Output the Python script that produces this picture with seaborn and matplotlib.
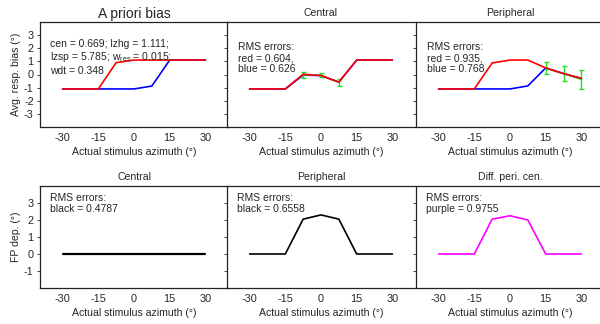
import matplotlib
matplotlib.use("Agg")
import matplotlib.pyplot as plt
import seaborn as sns
import numpy as np
import pandas as pd

sns.set_theme(style="white")
plt.rcParams['font.family'] = ['Liberation Sans', 'DejaVu Sans']
plt.rcParams['mathtext.fontset'] = 'custom'
plt.rcParams['mathtext.rm'] = 'Liberation Sans'
plt.rcParams['mathtext.it'] = 'Liberation Sans'

# ---------------- data ----------------
azimuth = [-30, -22.5, -15, -7.5, 0, 7.5, 15, 22.5, 30]

prior_red = [-1.1, -1.1, -1.1, 0.9, 1.1, 1.1, 1.1, 1.1, 1.1]
prior_blue = [-1.1, -1.1, -1.1, -1.1, -1.1, -0.88, 1.1, 1.1, 1.1]

central_red = [-1.1, -1.1, -1.1, 0.02, -0.08, -0.58, 1.1, 1.1, 1.1]
central_blue = [-1.1, -1.1, -1.1, -0.05, -0.08, -0.58, 1.1, 1.1, 1.1]
central_data_x = [-7.5, 0, 7.5]
central_data_y = [-0.03, -0.06, -0.6]
central_data_err = [0.22, 0.14, 0.28]

peri_red = [-1.1, -1.1, -1.1, 0.88, 1.1, 1.1, 0.5, 0.07, -0.3]
peri_blue = [-1.1, -1.1, -1.1, -1.1, -1.1, -0.87, 0.5, 0.07, -0.3]
peri_data_x = [15, 22.5, 30]
peri_data_y = [0.48, 0.06, -0.38]
peri_data_err = [0.47, 0.57, 0.72]

fp_central = [0, 0, 0, 0, 0, 0, 0, 0, 0]
fp_peripheral = [0, 0, 0, 2.05, 2.3, 2.05, 0, 0, 0]
fp_diff = [0, 0, 0, 2.05, 2.25, 2.0, 0, 0, 0]

top_titles = ["A priori bias", "Central", "Peripheral"]
bottom_titles = ["Central", "Peripheral", "Diff. peri. cen."]
xticks = [-30, -15, 0, 15, 30]
top_yticks = [3, 2, 1, 0, -1, -2, -3]
bottom_yticks = [3, 2, 1, 0, -1]
xlabel = "Actual stimulus azimuth (°)"

# ---------------- figure ----------------
fig = plt.figure(figsize=(6.0, 3.24), dpi=100)
W, H = 600.0, 324.0
lefts = [40, 227, 416]
pw = 188

def make_ax(left, top, bottom):
    return fig.add_axes([left / W, 1 - bottom / H, pw / W, (bottom - top) / H])

top_axes = [make_ax(l, 22, 127) for l in lefts]
bot_axes = [make_ax(l, 186, 288) for l in lefts]

def style(ax, ylim, yticks, show_ylabels):
    ax.set_xlim(-39.5, 39.5)
    ax.set_ylim(*ylim)
    ax.set_xticks(xticks)
    ax.set_xticklabels([str(t) for t in xticks], fontsize=7.8)
    ax.set_yticks(yticks)
    if show_ylabels:
        ax.set_yticklabels([str(t) for t in yticks], fontsize=7.8)
    else:
        ax.set_yticklabels([])
    ax.tick_params(axis='x', length=0, pad=4)
    ax.tick_params(axis='y', length=2.5, width=0.6, pad=2, left=True, direction='out')
    for s in ['left', 'bottom', 'top']:
        ax.spines[s].set_visible(True)
        ax.spines[s].set_color('#222222')
        ax.spines[s].set_linewidth(0.9)
    ax.spines['right'].set_visible(False)
    ax.set_xlabel(xlabel, fontsize=7.6, labelpad=3)
    ax.set_ylabel("")
    ax.patch.set_alpha(0)

def line(ax, y, color, lw=1.2, zorder=2):
    df = pd.DataFrame({"x": azimuth, "y": y})
    sns.lineplot(data=df, x="x", y="y", ax=ax, color=color, linewidth=lw,
                 sort=False, estimator=None, zorder=zorder)

# Top row
ax = top_axes[0]
line(ax, prior_blue, "blue")
line(ax, prior_red, "red", zorder=3)
style(ax, (-4, 4), top_yticks, True)
ax.set_title(top_titles[0], fontsize=10, pad=3)
ax.set_ylabel("Avg. resp. bias (°)", fontsize=7.6, labelpad=2)
ax.text(0.053, 0.84, "cen = 0.669; lzhg = 1.111;", transform=ax.transAxes,
        fontsize=7.5, va='top', ha='left')
ax.text(0.053, 0.735, "lzsp = 5.785; w$_\\mathrm{res}$ = 0.015;", transform=ax.transAxes,
        fontsize=7.5, va='top', ha='left')
ax.text(0.053, 0.58, "wdt = 0.348", transform=ax.transAxes,
        fontsize=7.5, va='top', ha='left')

ax = top_axes[1]
line(ax, central_blue, "blue")
ax.errorbar(central_data_x, central_data_y, yerr=central_data_err, color="#22dd22",
            lw=1.0, capsize=1.8, elinewidth=1.0, zorder=2.5)
line(ax, central_red, "red", zorder=3)
style(ax, (-4, 4), top_yticks, False)
ax.set_title(top_titles[1], fontsize=7.6, pad=4)
ax.text(0.058, 0.81, "RMS errors:\nred = 0.604,\nblue = 0.626", transform=ax.transAxes,
        fontsize=7.5, va='top', ha='left', linespacing=1.15)

ax = top_axes[2]
line(ax, peri_blue, "blue")
ax.errorbar(peri_data_x, peri_data_y, yerr=peri_data_err, color="#22dd22",
            lw=1.0, capsize=1.8, elinewidth=1.0, zorder=2.5)
line(ax, peri_red, "red", zorder=3)
style(ax, (-4, 4), top_yticks, False)
ax.set_title(top_titles[2], fontsize=7.6, pad=4)
ax.text(0.058, 0.81, "RMS errors:\nred = 0.935,\nblue = 0.768", transform=ax.transAxes,
        fontsize=7.5, va='top', ha='left', linespacing=1.15)

# Bottom row
ax = bot_axes[0]
line(ax, fp_central, "black", lw=1.6)
style(ax, (-2, 4), bottom_yticks, True)
ax.set_title(bottom_titles[0], fontsize=7.6, pad=4)
ax.set_ylabel("FP dep. (°)", fontsize=7.6, labelpad=2)
ax.text(0.053, 0.93, "RMS errors:\nblack = 0.4787", transform=ax.transAxes,
        fontsize=7.5, va='top', ha='left', linespacing=1.1)

ax = bot_axes[1]
line(ax, fp_peripheral, "black", lw=1.2)
style(ax, (-2, 4), bottom_yticks, False)
ax.set_title(bottom_titles[1], fontsize=7.6, pad=4)
ax.text(0.053, 0.93, "RMS errors:\nblack = 0.6558", transform=ax.transAxes,
        fontsize=7.5, va='top', ha='left', linespacing=1.1)

ax = bot_axes[2]
line(ax, fp_diff, "magenta", lw=1.2)
style(ax, (-2, 4), bottom_yticks, False)
ax.set_title(bottom_titles[2], fontsize=7.6, pad=4)
ax.text(0.053, 0.93, "RMS errors:\npurple = 0.9755", transform=ax.transAxes,
        fontsize=7.5, va='top', ha='left', linespacing=1.1)

fig.savefig("out.png", dpi=100, facecolor="white")
